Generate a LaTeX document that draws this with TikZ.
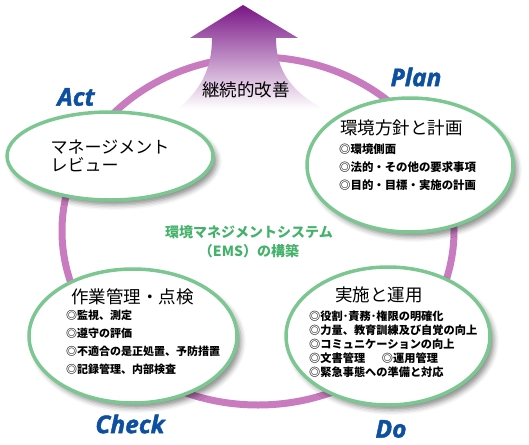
\documentclass[tikz,border=0pt]{standalone}
\usepackage{fontspec}
\setmainfont{Noto Sans CJK JP}
\newfontfamily\pdcafont[BoldItalicFeatures={FakeBold=1.6}]{Open Sans}
\usetikzlibrary{shapes.geometric,shadows.blur}
\definecolor{ringpurple}{HTML}{C87BBE}
\definecolor{arrowpurple}{HTML}{7A1687}
\definecolor{ellgreen}{HTML}{7CC791}
\definecolor{labelblue}{HTML}{0D4FA0}
\definecolor{emsgreen}{HTML}{45B26B}
\newcommand{\jpsize}[2]{\fontsize{#1}{#2}\selectfont}

\begin{document}
\begin{tikzpicture}[x=1pt,y=-1pt, line join=round, line cap=round,
	phase/.style={ellipse, draw=ellgreen, line width=3.5pt, fill=white, inner sep=0pt,
		blur shadow={shadow xshift=4pt, shadow yshift=-5pt, shadow blur radius=5pt, shadow opacity=45}},
	pdca/.style={text=labelblue, font=\pdcafont\bfseries\itshape\fontsize{24.5}{24}\selectfont},
	title/.style={anchor=west, inner sep=0pt, font=\jpsize{17.5}{20}},
	items/.style={anchor=north west, align=left, inner sep=0pt, font=\bfseries\jpsize{11.4}{18}}]
	\useasboundingbox (0,0) rectangle (529,444);
	% PDCA-Kreis
	\draw[ringpurple, line width=7pt] (258,231) ellipse [x radius=196, y radius=174];
	% Pfeil nach oben
	\path[top color=arrowpurple, middle color=arrowpurple!50, bottom color=white]
		(243,5) -- (298,38) -- (276,38) .. controls (276,70) and (290,90) .. (323,109)
		-- (178,109) .. controls (200,90) and (212,70) .. (212,38) -- (190,38) -- cycle;
	\node[font=\jpsize{17.5}{20}] (kaizen) at (246,90) {継続的改善};
	% vier Phasen
	\node[phase, minimum width=206, minimum height=88] (act) at (110,156) {};
	\node[phase, minimum width=206, minimum height=134] (plan) at (410,165) {};
	\node[phase, minimum width=208, minimum height=134] (check) at (133,336) {};
	\node[phase, minimum width=204, minimum height=138] (do) at (388,336) {};
	\node[align=left, inner sep=0pt, font=\jpsize{17}{18.5}] (acttxt) at (act.center) {マネージメント\\レビュー};
	\node[title] (plantitle) at (340,128) {環境方針と計画};
	\node[items] (planitems) at (339,144) {◎環境側面\\◎法的・その他の要求事項\\◎目的・目標・実施の計画};
	\node[title] (checktitle) at (71,297) {作業管理・点検};
	\node[items, font=\bfseries\jpsize{11}{18}] (checkitems) at (66,310) {◎監視、測定\\◎遵守の評価\\◎不適合の是正処置、予防措置\\◎記録管理、内部検査};
	\node[title] (dotitle) at (335,295) {実施と運用};
	\node[items, font=\bfseries\jpsize{11.2}{14}] (doitems) at (309,311) {◎役割･責務･権限の明確化\\◎力量、教育訓練及び自覚の向上\\◎コミュニケーションの向上\\◎文書管理\hspace{1.5em}◎運用管理\\◎緊急事態への準備と対応};
	% Mitte
	\node[align=center, text=emsgreen, font=\bfseries\jpsize{14}{19}] (ems) at (249,242) {環境マネジメントシステム\\（EMS）の構築};
	% Beschriftung
	\node[pdca] (actlbl) at (76,97) {Act};
	\node[pdca] (planlbl) at (416,77) {Plan};
	\node[pdca] (checklbl) at (130,424) {Check};
	\node[pdca] (dolbl) at (391,429) {Do};
\end{tikzpicture}
\end{document}
